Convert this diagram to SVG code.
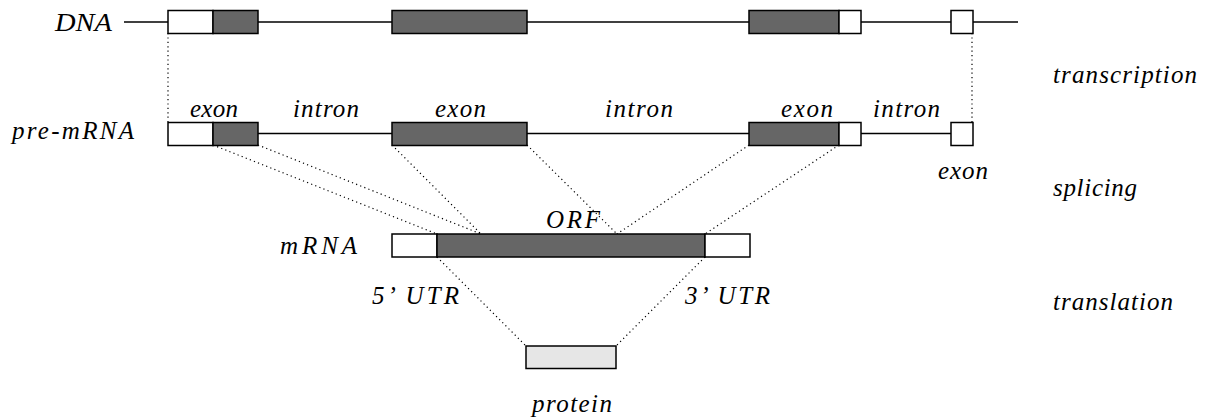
<svg xmlns="http://www.w3.org/2000/svg" width="1212" height="417" viewBox="0 0 1212 417">
<style>
.ln{stroke:#000;stroke-width:1.5;fill:none}
.w{fill:#fff;stroke:#000;stroke-width:1.5}
.d{fill:#666;stroke:#000;stroke-width:1.5}
.p{fill:#e6e6e6;stroke:#000;stroke-width:1.5}
.dot{stroke:#000;stroke-width:1.2;stroke-dasharray:1.2 3.2;fill:none}
</style>
<rect width="1212" height="417" fill="#fff"/>
<g id="connectors">
<line class="dot" x1="168" y1="33" x2="168" y2="122"/>
<line class="dot" x1="972" y1="33" x2="972" y2="122"/>
<line class="dot" x1="213" y1="145" x2="437" y2="234"/>
<line class="dot" x1="258" y1="145" x2="481" y2="234"/>
<line class="dot" x1="392" y1="145" x2="481" y2="234"/>
<line class="dot" x1="527" y1="145" x2="617" y2="234"/>
<line class="dot" x1="749" y1="145" x2="617" y2="234"/>
<line class="dot" x1="839" y1="145" x2="705" y2="234"/>
<line class="dot" x1="437" y1="257" x2="526" y2="346"/>
<line class="dot" x1="705" y1="257" x2="616" y2="346"/>
</g>
<g font-family="Liberation Serif, serif" font-style="italic" font-size="25" fill="#000">
<g id="dna">
<line class="ln" x1="124" y1="22" x2="1018" y2="22"/>
<rect class="w" x="168" y="10.5" width="45" height="23"/>
<rect class="d" x="213" y="10.5" width="45" height="23"/>
<rect class="d" x="392" y="10.5" width="135" height="23"/>
<rect class="d" x="749" y="10.5" width="90" height="23"/>
<rect class="w" x="839" y="10.5" width="22" height="23"/>
<rect class="w" x="951" y="10.5" width="22" height="23"/>
<text x="55" y="31" textLength="57" lengthAdjust="spacingAndGlyphs">DNA</text>
</g>
<g id="pre-mrna">
<line class="ln" x1="168" y1="133.5" x2="973" y2="133.5"/>
<rect class="w" x="168" y="122.5" width="45" height="23"/>
<rect class="d" x="213" y="122.5" width="45" height="23"/>
<rect class="d" x="392" y="122.5" width="135" height="23"/>
<rect class="d" x="749" y="122.5" width="90" height="23"/>
<rect class="w" x="839" y="122.5" width="22" height="23"/>
<rect class="w" x="951" y="122.5" width="22" height="23"/>
<text x="12" y="139" textLength="122" lengthAdjust="spacing">pre-mRNA</text>
<text x="190" y="117" textLength="48" lengthAdjust="spacing">exon</text>
<text x="293" y="117" textLength="66" lengthAdjust="spacing">intron</text>
<text x="435" y="117" textLength="51" lengthAdjust="spacing">exon</text>
<text x="605" y="117" textLength="68" lengthAdjust="spacing">intron</text>
<text x="781" y="117" textLength="52" lengthAdjust="spacing">exon</text>
<text x="873" y="117" textLength="67" lengthAdjust="spacing">intron</text>
<text x="938" y="179" textLength="50" lengthAdjust="spacing">exon</text>
</g>
<g id="mrna">
<rect class="w" x="392" y="234" width="45" height="23"/>
<rect class="d" x="437" y="234" width="268" height="23"/>
<rect class="w" x="705" y="234" width="45" height="23"/>
<text x="280" y="254" textLength="77" lengthAdjust="spacing">mRNA</text>
<text x="546" y="228" textLength="54" lengthAdjust="spacing">ORF</text>
<text x="372" y="304" textLength="87" lengthAdjust="spacing">5’ UTR</text>
<text x="685" y="304" textLength="85" lengthAdjust="spacing">3’ UTR</text>
</g>
<g id="protein">
<rect class="p" x="526" y="346" width="90" height="22.5"/>
<text x="532" y="412" textLength="80" lengthAdjust="spacing">protein</text>
</g>
<g id="steps">
<text x="1053" y="83" textLength="144" lengthAdjust="spacing">transcription</text>
<text x="1053" y="196" textLength="84" lengthAdjust="spacing">splicing</text>
<text x="1053" y="310" textLength="120" lengthAdjust="spacing">translation</text>
</g>
</g>
</svg>
